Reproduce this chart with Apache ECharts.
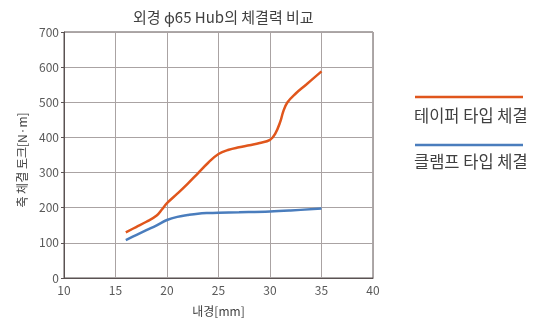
<!DOCTYPE html>
<html><head><meta charset="utf-8">
<script src="https://cdn.jsdelivr.net/npm/echarts@6/dist/echarts.min.js"></script>
<style>html,body{margin:0;padding:0;background:#fff}#c{width:533px;height:322px}</style>
</head><body><div id="c"></div>
<script>
const titleText = '외경 ϕ65 Hub의 체결력 비교';
const xName = '내경[mm]';
const yName = '축 체결 토크[N·m]';
const seriesNames = ['테이퍼 타입 체결', '클램프 타입 체결'];
const taperX = [16, 17, 18, 19, 19.5, 20, 21, 22, 23, 24, 25, 26, 27, 28, 29, 30, 30.5, 31, 31.3, 31.7, 32.5, 33.5, 35];
const taperY = [130, 145, 160, 178, 195, 213, 240, 268, 298, 328, 353, 365, 372, 378, 384, 393, 410, 445, 475, 500, 525, 550, 588];
const clampX = [16, 17, 18, 19, 20, 21, 22, 23, 24, 25, 27, 30, 32, 35];
const clampY = [108, 122, 136, 150, 165, 174, 179, 183, 185, 186, 187, 189, 192, 198];
const colors = ['#E0561C', '#4A7DBD'];
const font = '"Noto Sans CJK KR", "Noto Sans", sans-serif';

const chart = echarts.init(document.getElementById('c'));
chart.setOption({
  animation: false,
  textStyle: { fontFamily: font },
  title: { text: titleText, left: 128, top: 5,
    textStyle: { fontSize: 15, fontWeight: 'normal', color: '#404040', fontFamily: font } },
  grid: { left: 64, right: 160, top: 32, bottom: 44, show: true, borderColor: '#5a5252', borderWidth: 1 },
  xAxis: { type: 'value', min: 10, max: 40, interval: 5,
    name: xName, nameLocation: 'middle', nameGap: 27,
    nameTextStyle: { fontSize: 12, color: '#404040', fontFamily: font },
    axisLine: { show: true, lineStyle: { color: '#5a5252' } },
    axisTick: { show: false },
    axisLabel: { fontSize: 12, color: '#595959', margin: 6 },
    splitLine: { lineStyle: { color: '#aaa3a3', width: 1 } } },
  yAxis: { type: 'value', min: 0, max: 700, interval: 100,
    name: yName, nameLocation: 'middle', nameGap: 34, nameRotate: 90,
    nameTextStyle: { fontSize: 12, color: '#404040', fontFamily: font, padding: [0, 10, 0, 0] },
    axisLine: { show: true, lineStyle: { color: '#5a5252' } },
    axisTick: { show: true, inside: false, length: 3, lineStyle: { color: '#5a5252' } },
    axisLabel: { fontSize: 12, color: '#595959', margin: 5 },
    splitLine: { lineStyle: { color: '#aaa3a3', width: 1 } } },
  series: [
    { name: seriesNames[0], type: 'line', smooth: 0.4, showSymbol: false,
      data: taperX.map((x, i) => [x, taperY[i]]),
      lineStyle: { color: colors[0], width: 2.5 } },
    { name: seriesNames[1], type: 'line', smooth: 0.4, showSymbol: false,
      data: clampX.map((x, i) => [x, clampY[i]]),
      lineStyle: { color: colors[1], width: 2.5 } }
  ],
  graphic: [
    { type: 'line', shape: { x1: 415, y1: 97, x2: 523, y2: 97 }, style: { stroke: colors[0], lineWidth: 2.5 } },
    { type: 'text', left: 414, top: 107, style: { text: seriesNames[0], fill: '#404040', font: '16.5px ' + font } },
    { type: 'line', shape: { x1: 415, y1: 145, x2: 523, y2: 145 }, style: { stroke: colors[1], lineWidth: 2.5 } },
    { type: 'text', left: 414, top: 153, style: { text: seriesNames[1], fill: '#404040', font: '16.5px ' + font } }
  ]
});
</script></body></html>
